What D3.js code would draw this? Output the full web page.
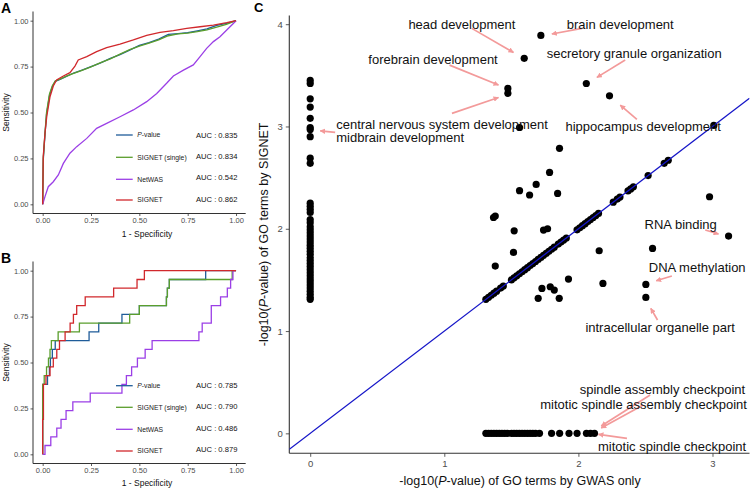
<!DOCTYPE html>
<html><head><meta charset="utf-8">
<script src="https://cdn.jsdelivr.net/npm/d3@7"></script>
<style>body{margin:0;background:#fff} svg{display:block;font-family:"Liberation Sans",Arial,sans-serif}</style>
</head><body><svg id="chart" width="750" height="489"></svg>
<script>
// ---------- DATA ----------
const seriesNames = ["P-value", "SIGNET (single)", "NetWAS", "SIGNET"];
const seriesColors = ["#1f5c99", "#5a9e2c", "#9b3fe6", "#d1282c"];
const aucA = ["0.835", "0.834", "0.542", "0.862"];
const aucB = ["0.785", "0.790", "0.486", "0.879"];
const rocTicks = [0, 0.25, 0.5, 0.75, 1];
const rocTickLabels = ["0.00", "0.25", "0.50", "0.75", "1.00"];

// Panel A ROC curves (1-specificity, sensitivity)
const aPvalueFpr = [0, 0.003, 0.012, 0.02, 0.035, 0.05, 0.065, 0.09, 0.12, 0.16, 0.2, 0.25, 0.3, 0.35, 0.4, 0.45, 0.5, 0.55, 0.6, 0.65, 0.7, 0.75, 0.8, 0.85, 0.9, 0.95, 1];
const aPvalueTpr = [0, 0.24, 0.38, 0.49, 0.59, 0.64, 0.67, 0.68, 0.695, 0.715, 0.73, 0.75, 0.77, 0.795, 0.815, 0.84, 0.865, 0.88, 0.9, 0.925, 0.93, 0.935, 0.945, 0.955, 0.975, 0.985, 1];
const aSingleFpr = [0, 0.003, 0.012, 0.02, 0.035, 0.05, 0.065, 0.09, 0.12, 0.16, 0.2, 0.25, 0.3, 0.35, 0.4, 0.45, 0.5, 0.55, 0.6, 0.65, 0.7, 0.75, 0.8, 0.85, 0.9, 0.95, 1];
const aSingleTpr = [0, 0.25, 0.39, 0.5, 0.6, 0.645, 0.672, 0.682, 0.697, 0.713, 0.728, 0.748, 0.772, 0.792, 0.818, 0.842, 0.862, 0.878, 0.895, 0.918, 0.928, 0.932, 0.94, 0.95, 0.965, 0.98, 1];
const aNetwasFpr = [0, 0.012, 0.029, 0.055, 0.081, 0.107, 0.141, 0.176, 0.228, 0.279, 0.331, 0.4, 0.469, 0.538, 0.59, 0.641, 0.676, 0.728, 0.779, 0.814, 0.848, 0.883, 0.917, 0.952, 0.986, 1];
const aNetwasTpr = [0, 0.042, 0.096, 0.123, 0.16, 0.223, 0.278, 0.314, 0.359, 0.414, 0.441, 0.477, 0.514, 0.559, 0.604, 0.659, 0.699, 0.731, 0.759, 0.804, 0.849, 0.886, 0.913, 0.949, 0.985, 1];
const aSignetFpr = [0, 0.003, 0.012, 0.021, 0.038, 0.055, 0.072, 0.107, 0.141, 0.167, 0.184, 0.228, 0.279, 0.331, 0.4, 0.469, 0.538, 0.607, 0.676, 0.745, 0.814, 0.883, 0.952, 1];
const aSignetTpr = [0, 0.26, 0.387, 0.477, 0.586, 0.644, 0.677, 0.699, 0.717, 0.753, 0.786, 0.804, 0.831, 0.853, 0.873, 0.895, 0.92, 0.936, 0.946, 0.958, 0.967, 0.976, 0.989, 1];

// Panel B ROC curves (step corners: end of each horizontal run)
const bPvalueFpr = [0, 0.025, 0.035, 0.04, 0.05, 0.065, 0.24, 0.29, 0.41, 0.5, 0.64, 0.645, 0.655, 0.843, 1];
const bPvalueTpr = [0, 0.381, 0.429, 0.476, 0.524, 0.571, 0.619, 0.667, 0.714, 0.762, 0.81, 0.857, 0.905, 0.952, 1];
const bSingleFpr = [0, 0.008, 0.02, 0.03, 0.038, 0.045, 0.08, 0.19, 0.45, 0.5, 0.64, 0.645, 0.655, 0.98, 1];
const bSingleTpr = [0, 0.381, 0.429, 0.476, 0.524, 0.571, 0.619, 0.667, 0.714, 0.762, 0.81, 0.857, 0.905, 0.952, 1];
const bNetwasFpr = [0, 0.012, 0.042, 0.073, 0.095, 0.121, 0.156, 0.246, 0.41, 0.433, 0.46, 0.49, 0.53, 0.566, 0.808, 0.825, 0.872, 0.92, 0.955, 0.972, 0.984, 1];
const bNetwasTpr = [0, 0, 0.048, 0.095, 0.143, 0.19, 0.238, 0.286, 0.333, 0.381, 0.429, 0.476, 0.524, 0.571, 0.619, 0.667, 0.714, 0.81, 0.857, 0.905, 0.952, 1];
const bSignetFpr = [0, 0.004, 0.017, 0.038, 0.055, 0.073, 0.087, 0.116, 0.142, 0.159, 0.176, 0.22, 0.367, 0.488, 0.526, 1];
const bSignetTpr = [0, 0.19, 0.381, 0.429, 0.476, 0.524, 0.571, 0.619, 0.667, 0.714, 0.762, 0.81, 0.857, 0.905, 0.952, 1];

// Panel C: -log10(P) of GO terms
const cTicks = [0, 1, 2, 3, 4];
const cSignetOnlyY = [3.45, 3.42, 3.27, 3.19, 3.08, 2.99, 2.97, 2.9, 2.69, 2.64, 2.25, 2.22, 2.19, 2.16, 2.09, 2.06, 2.02, 1.99, 1.96, 1.93, 1.9, 1.87, 1.84, 1.81, 1.78, 1.75, 1.72, 1.69, 1.66, 1.63, 1.6, 1.57, 1.54, 1.51, 1.48, 1.45, 1.42, 1.39, 1.36, 1.33, 1.31];
const cGwasOnlyX = [1.31, 1.33, 1.35, 1.37, 1.39, 1.41, 1.43, 1.45, 1.47, 1.5, 1.52, 1.54, 1.56, 1.58, 1.6, 1.62, 1.64, 1.66, 1.68, 1.71, 1.8, 1.86, 1.93, 1.99, 2.06, 2.09, 2.12];
const cEqual = [1.31, 1.33, 1.35, 1.37, 1.39, 1.42, 1.44, 1.5, 1.52, 1.54, 1.56, 1.58, 1.6, 1.62, 1.64, 1.66, 1.68, 1.7, 1.72, 1.74, 1.76, 1.78, 1.8, 1.82, 1.85, 1.87, 1.89, 1.91, 1.99, 2.01, 2.03, 2.05, 2.07, 2.09, 2.11, 2.13, 2.15, 2.26, 2.29, 2.31, 2.37, 2.39, 2.41, 2.52, 2.64, 2.67, 3.01];
const cOtherX = [1.72, 1.596, 1.474, 1.474, 2.059, 2.232, 1.561, 1.859, 1.785, 1.685, 1.561, 1.636, 1.845, 1.367, 1.38, 1.521, 1.74, 1.77, 2.978, 3.12, 1.516, 1.38, 2.155, 2.553, 1.926, 2.183, 2.503, 2.503, 1.728, 1.70, 1.79, 1.82, 1.857];
const cOtherY = [3.89, 3.666, 3.372, 3.324, 3.42, 3.30, 2.99, 2.786, 2.551, 2.434, 2.372, 2.33, 2.346, 2.11, 2.124, 1.98, 1.987, 2.0, 2.313, 1.929, 1.769, 1.635, 1.785, 1.808, 1.508, 1.466, 1.456, 1.329, 1.417, 1.32, 1.433, 1.401, 1.32];

// annotation labels (data coordinates): text, anchor, label x/y, arrow from -> to
const cLabelText = ["head development", "brain development", "forebrain development", "secretory granule organization", "hippocampus development", "central nervous system development", "midbrain development", "RNA binding", "DNA methylation", "intracellular organelle part", "spindle assembly checkpoint", "mitotic spindle assembly checkpoint", "mitotic spindle checkpoint"];
const cLabelAnchor = ["middle", "middle", "middle", "middle", "middle", "start", "start", "middle", "middle", "middle", "end", "end", "end"];
const cLabelX = [1.131, 2.312, 0.916, 2.416, 2.483, 0.194, 0.194, 2.763, 2.886, 2.61, 3.244, 3.257, 3.251];
const cLabelY = [3.998, 4.001, 3.656, 3.711, 3.004, 3.023, 2.891, 2.046, 1.623, 1.032, 0.433, 0.286, -0.131];
const cArrowX0 = [1.205, 2.026, 1.039, 2.349, 2.436, 1.057, 0.186, 2.946, 2.697, 2.59, 2.535, 2.483, 2.362];
const cArrowY0 = [3.959, 3.959, 3.6, 3.649, 3.069, 3.128, 2.942, 1.988, 1.538, 1.108, 0.375, 0.277, -0.049];
const cArrowX1 = [1.516, 1.802, 1.404, 2.138, 2.312, 1.404, 0.075, 3.045, 2.58, 2.54, 2.17, 2.17, 2.15];
const cArrowY1 = [3.724, 3.904, 3.405, 3.48, 3.209, 3.284, 2.958, 1.949, 1.492, 1.222, 0.071, 0.052, -0.01];

// ---------- DRAW ----------
const svg = d3.select("#chart");
const tickGray = "#4d4d4d";

function zip(xs, ys) { return xs.map((x, i) => [x, ys[i]]); }

function rocPanel(opts) {
  const x = d3.scaleLinear().domain([-0.05, 1.05]).range([33, 245.7]);
  const y = d3.scaleLinear().domain([-0.05, 1.05]).range([opts.bottom, opts.top]);
  const g = svg.append("g");
  const ax = g.append("g").attr("transform", `translate(0,${opts.bottom})`)
    .call(d3.axisBottom(x).tickValues(rocTicks).tickFormat((d, i) => rocTickLabels[i]).tickSize(2.5).tickPadding(2));
  const ay = g.append("g").attr("transform", `translate(33,0)`)
    .call(d3.axisLeft(y).tickValues(rocTicks).tickFormat((d, i) => rocTickLabels[i]).tickSize(2.5).tickPadding(2));
  [ax, ay].forEach(a => {
    a.select(".domain").remove();
    a.selectAll("line").attr("stroke", "#333").attr("stroke-width", 0.8);
    a.selectAll("text").attr("fill", tickGray).style("font-size", "7.5px").style("font-family", "Liberation Sans, Arial, sans-serif");
  });
  g.append("line").attr("x1", 33).attr("x2", 245.7).attr("y1", opts.bottom).attr("y2", opts.bottom).attr("stroke", "#333").attr("stroke-width", 1);
  g.append("line").attr("x1", 33).attr("x2", 33).attr("y1", opts.top).attr("y2", opts.bottom).attr("stroke", "#333").attr("stroke-width", 1);
  g.append("text").attr("x", 147).attr("y", opts.bottom + opts.titleOff).attr("text-anchor", "middle").style("font-size", "8.5px").attr("fill", "#111").text("1 - Specificity");
  g.append("text").attr("transform", `translate(8.5,${(opts.top + opts.bottom) / 2}) rotate(-90)`).attr("text-anchor", "middle").style("font-size", "8.5px").attr("fill", "#111").text("Sensitivity");
  g.append("text").attr("x", 1).attr("y", opts.letterY).style("font-size", "14px").style("font-weight", "bold").text(opts.letter);
  const line = d3.line().x(d => x(d[0])).y(d => y(d[1])).curve(opts.curve);
  opts.series.forEach((s, i) => {
    g.append("path").datum(s).attr("fill", "none").attr("stroke", seriesColors[i]).attr("stroke-width", 1.3).attr("d", line);
  });
  opts.legendY.forEach((ly, i) => {
    g.append("line").attr("x1", 116).attr("x2", 132.7).attr("y1", ly).attr("y2", ly).attr("stroke", seriesColors[i]).attr("stroke-width", 1.3);
    const t = g.append("text").attr("x", 137.3).attr("y", ly).attr("dy", "0.35em").style("font-size", "6.8px").attr("fill", "#222");
    if (i === 0) {
      t.append("tspan").style("font-style", "italic").text("P");
      t.append("tspan").text("-value");
    } else t.text(seriesNames[i]);
    g.append("text").attr("x", 196).attr("y", opts.aucY[i]).attr("dy", "0.35em").style("font-size", "7.6px").attr("fill", "#111").text("AUC : " + opts.auc[i]);
  });
}

rocPanel({
  top: 11.5, bottom: 213.5, letter: "A", letterY: 12.5, curve: d3.curveLinear, titleOff: 23.5,
  series: [zip(aPvalueFpr, aPvalueTpr), zip(aSingleFpr, aSingleTpr), zip(aNetwasFpr, aNetwasTpr), zip(aSignetFpr, aSignetTpr)],
  legendY: [135, 157.3, 179.3, 200], aucY: [135, 156, 177.3, 199], auc: aucA
});
rocPanel({
  top: 261.5, bottom: 463.5, letter: "B", letterY: 263, curve: d3.curveStepBefore, titleOff: 22.8,
  series: [zip(bPvalueFpr, bPvalueTpr), zip(bSingleFpr, bSingleTpr), zip(bNetwasFpr, bNetwasTpr), zip(bSignetFpr, bSignetTpr)],
  legendY: [385.7, 407.3, 429.3, 451], aucY: [385.7, 406.3, 428, 449.7], auc: aucB
});

// Panel C
(function () {
  const L = 289.3, R = 749.5, T = 15.5, B = 453.3;
  const x = d3.scaleLinear().domain([-0.156, 3.276]).range([L, R]);
  const y = d3.scaleLinear().domain([-0.195, 4.085]).range([B, T]);
  const g = svg.append("g");
  g.append("defs").append("clipPath").attr("id", "clipC").append("rect").attr("x", L).attr("y", T).attr("width", R - L).attr("height", B - T);
  const ax = g.append("g").attr("transform", `translate(0,${B})`).call(d3.axisBottom(x).tickValues(cTicks.slice(0, 4)).tickFormat(d3.format("d")).tickSize(3.5).tickPadding(3));
  const ay = g.append("g").attr("transform", `translate(${L},0)`).call(d3.axisLeft(y).tickValues(cTicks).tickFormat(d3.format("d")).tickSize(3.5).tickPadding(3));
  [ax, ay].forEach(a => {
    a.select(".domain").remove();
    a.selectAll("line").attr("stroke", "#333").attr("stroke-width", 0.8);
    a.selectAll("text").attr("fill", tickGray).style("font-size", "9.5px").style("font-family", "Liberation Sans, Arial, sans-serif");
  });
  g.append("line").attr("x1", L).attr("x2", R).attr("y1", B).attr("y2", B).attr("stroke", "#333").attr("stroke-width", 1.1);
  g.append("line").attr("x1", L).attr("x2", L).attr("y1", T).attr("y2", B).attr("stroke", "#333").attr("stroke-width", 1.1);

  const xt = g.append("text").attr("x", 520).attr("y", 485).attr("text-anchor", "middle").style("font-size", "12.5px").attr("fill", "#111");
  xt.append("tspan").text("-log10(");
  xt.append("tspan").style("font-style", "italic").text("P");
  xt.append("tspan").text("-value) of GO terms by GWAS only");
  const yt = g.append("text").attr("transform", `translate(268,${(T + B) / 2}) rotate(-90)`).attr("text-anchor", "middle").style("font-size", "12.5px").attr("fill", "#111");
  yt.append("tspan").text("-log10(");
  yt.append("tspan").style("font-style", "italic").text("P");
  yt.append("tspan").text("-value) of GO terms by SIGNET");
  g.append("text").attr("x", 254).attr("y", 12).style("font-size", "13px").style("font-weight", "bold").text("C");

  const pts = [];
  cSignetOnlyY.forEach(v => pts.push([0, v]));
  cGwasOnlyX.forEach(v => pts.push([v, 0]));
  cEqual.forEach(v => pts.push([v, v]));
  cOtherX.forEach((v, i) => pts.push([v, cOtherY[i]]));
  g.append("g").selectAll("circle").data(pts).join("circle")
    .attr("cx", d => x(d[0])).attr("cy", d => y(d[1])).attr("r", 3.6).attr("fill", "#000");

  g.append("line").attr("clip-path", "url(#clipC)")
    .attr("x1", x(-0.156)).attr("y1", y(-0.156)).attr("x2", x(3.276)).attr("y2", y(3.276))
    .attr("stroke", "#1515c8").attr("stroke-width", 1.3);

  const defs = g.append("defs");
  defs.append("marker").attr("id", "ah").attr("viewBox", "0 0 10 10").attr("refX", 9).attr("refY", 5)
    .attr("markerWidth", 5.5).attr("markerHeight", 5.5).attr("orient", "auto-start-reverse").attr("markerUnits", "userSpaceOnUse")
    .append("path").attr("d", "M0,0 L10,5 L0,10 Z").attr("fill", "#f39a9a");
  cLabelText.forEach((t, i) => {
    g.append("line").attr("x1", x(cArrowX0[i])).attr("y1", y(cArrowY0[i])).attr("x2", x(cArrowX1[i])).attr("y2", y(cArrowY1[i]))
      .attr("stroke", "#f39a9a").attr("stroke-width", 1.7).attr("marker-end", "url(#ah)");
  });
  cLabelText.forEach((t, i) => {
    g.append("text").attr("x", x(cLabelX[i])).attr("y", y(cLabelY[i])).attr("dy", "0.35em").attr("text-anchor", cLabelAnchor[i])
      .style("font-size", "13px").attr("fill", "#111").text(t);
  });
})();
</script>
</body></html>
